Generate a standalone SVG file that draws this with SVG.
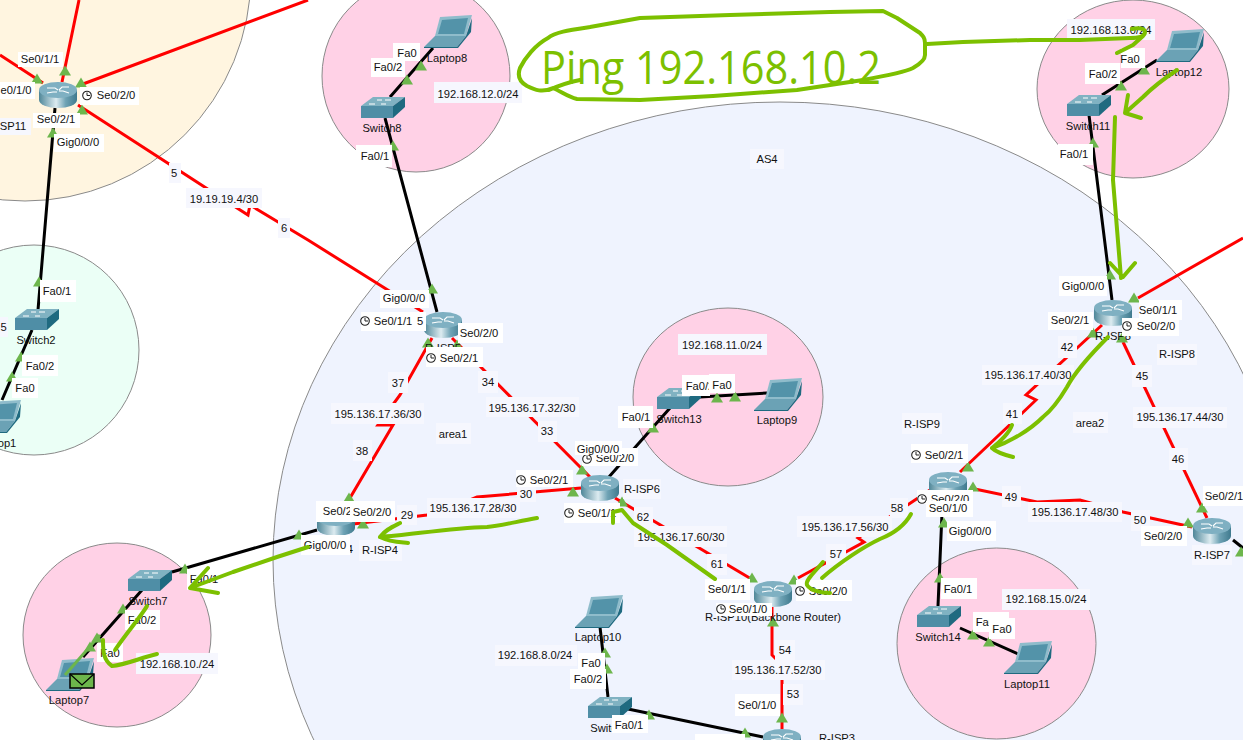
<svg xmlns="http://www.w3.org/2000/svg" width="1243" height="740" viewBox="0 0 1243 740">
<style>
text{font-family:"Liberation Sans",Arial,sans-serif;font-size:11.2px;fill:#111;text-anchor:middle;dominant-baseline:central}
.r{fill:none;stroke:#f00;stroke-width:3}
.k{fill:none;stroke:#000;stroke-width:3}
.w{fill:#fff}
.b{fill:#f6f7fe}
.h{fill:none;stroke:#7cc000;stroke-width:4;stroke-linecap:round;stroke-linejoin:round}
.p{fill:#ffd1e6;stroke:#8a8a8a}
</style>
<defs>
<linearGradient id="g"><stop offset="0" stop-color="#4f8799"/><stop offset=".45" stop-color="#dcebf0"/><stop offset=".7" stop-color="#6fa3b5"/><stop offset="1" stop-color="#3f7a8e"/></linearGradient>
<symbol id="router" viewBox="0 0 38 26" width="38" height="26">
<path d="M0 8V18A19 8 0 0 0 38 18V8Z" fill="url(#g)"/>
<ellipse cx="19" cy="8" rx="19" ry="8" fill="#7fb0c2"/>
<path d="M8 6h8l3 2M30 5h-7l-3 3M8 11l6-1h4M30 11l-6-2h-4" fill="none" stroke="#fff" stroke-width="1.1"/>
</symbol>
<symbol id="switch" viewBox="0 0 44 21" width="44" height="21">
<path d="M0 9 12 0H44L32 9Z" fill="#80b2c2"/><path d="M0 9H32V21H0Z" fill="#4f8ea6"/><path d="M32 9 44 0V10L32 21Z" fill="#1f6a80"/>
<path d="M8 7h6M24 3h6M16 3h5M20 7h5" stroke="#fff" stroke-width="1"/>
</symbol>
<symbol id="laptop" viewBox="0 0 48 33" width="48" height="33">
<path d="M16 2 48 0 42 21 11 21Z" fill="#8fbccb"/><path d="M18 5 44 3 40 19 14 19Z" fill="#5393a9"/>
<path d="M11 21H42L33 32H0Z" fill="#6ba2b5"/><path d="M33 32 42 21 48 3 47 17 34 33H0V32Z" fill="#1f6a80"/>
</symbol>
<polygon id="t" points="0,-5.500 6,4.500 -6,4.500" fill="#6db64c"/>
<g id="c"><circle r="4.3" fill="#fff" stroke="#222" stroke-width="1.1"/><path d="M0 -3V0H3" fill="none" stroke="#222"/></g>
</defs>
<rect width="1243" height="740" fill="#fff"/>

<g id="areas">
<circle cx="25" cy="-25" r="226" fill="#fff5e0" stroke="#8a8a8a"/>
<ellipse cx="34" cy="350" rx="105" ry="105" fill="#ebfff6" stroke="#8a8a8a"/>
<ellipse cx="780" cy="560" rx="507" ry="458" fill="#eff3fe" stroke="#8a8a8a"/>
<ellipse class="p" cx="416" cy="76" rx="94" ry="96"/>
<ellipse class="p" cx="1133" cy="89" rx="96" ry="89"/>
<ellipse class="p" cx="728" cy="397" rx="95" ry="89"/>
<ellipse class="p" cx="117" cy="635" rx="94" ry="92"/>
<ellipse class="p" cx="996.500" cy="643.500" rx="99.500" ry="95.500"/>
</g>

<g id="connectors">
<path class="r" d="M62 82 79 0M83 84 308 0M43 83 0 55"/>
<path class="r" d="M78 105 237 208 248 215 250 205 308 240 383 287 423 312"/>
<path class="k" d="M55 108 38 310M32 330 2 400"/>
<path class="k" d="M390 97 433 48M385 118 437 312"/>
<path class="k" d="M1102 95 1157 60M1089 115 1112 300"/>
<path class="k" d="M700 397 767 393M670 408 608 478"/>
<path class="k" d="M317 530 172 572M142 590 83 657"/>
<path class="k" d="M608 697 600 627M628 709 763 737"/>
<path class="k" d="M943 490 938 606M960 628 1018 654"/>
<path class="k" d="M1233 540 1243 548"/>
<path class="r" d="M1138 298 1243 238"/>
<path class="r" d="M432 338 400 395 378 425H393L350 498 345 510"/>
<path class="r" d="M452 338 590 477"/>
<path class="r" d="M581 488 477 497 470 500 427 515 345 525"/>
<path class="r" d="M615 498 753 580"/>
<path class="r" d="M798 578 864 542 858 538 930 490"/>
<path class="r" d="M772 607V655L782 665V729"/>
<path class="r" d="M1102 325 1026 395 1036 400 960 472"/>
<path class="r" d="M1123 342 1207 518"/>
<path class="r" d="M970 488 1037 502 1080 500 1123 512 1192 527"/>
</g>

<g id="ports">
<use href="#t" x="65" y="71"/><use href="#t" x="37" y="79"/><use href="#t" x="81" y="83"/><use href="#t" x="82" y="110"/><use href="#t" x="53" y="133"/>
<use href="#t" x="39" y="282"/><use href="#t" x="21" y="357"/><use href="#t" x="12" y="377"/>
<use href="#t" x="393" y="146"/><use href="#t" x="407" y="80"/><use href="#t" x="421" y="66"/>
<use href="#t" x="432" y="289"/><use href="#t" x="457" y="345"/><use href="#t" x="428" y="343"/>
<use href="#t" x="582" y="470"/><use href="#t" x="573" y="492"/><use href="#t" x="622" y="502"/>
<use href="#t" x="349" y="498"/><use href="#t" x="363" y="524"/><use href="#t" x="299" y="535"/>
<use href="#t" x="752" y="578"/><use href="#t" x="794" y="580"/><use href="#t" x="773" y="622"/>
<use href="#t" x="782" y="718"/><use href="#t" x="745" y="733"/><use href="#t" x="649" y="715"/><use href="#t" x="607" y="669"/><use href="#t" x="605" y="653"/>
<use href="#t" x="1110" y="275"/><use href="#t" x="1134" y="298"/><use href="#t" x="1093" y="333"/><use href="#t" x="1122" y="338"/>
<use href="#t" x="968" y="467"/><use href="#t" x="973" y="487"/><use href="#t" x="944" y="523"/>
<use href="#t" x="1202" y="508"/><use href="#t" x="1188" y="523"/><use href="#t" x="1241" y="552"/>
<use href="#t" x="185" y="569"/><use href="#t" x="123" y="609"/>
<use href="#t" x="1093" y="143"/><use href="#t" x="1121" y="86"/><use href="#t" x="1144" y="70"/>
<use href="#t" x="717" y="398"/><use href="#t" x="735" y="397"/><use href="#t" x="653" y="428"/>
<use href="#t" x="940" y="578"/><use href="#t" x="973" y="635"/><use href="#t" x="989" y="642"/>
</g>

<g id="nodes">
<g id="r-isp11"><use href="#router" x="39" y="82"/></g>
<g id="r-isp5"><use href="#router" x="424" y="312"/><text x="443" y="348">R-ISP5</text></g>
<g id="r-isp6"><use href="#router" x="581" y="475"/></g>
<g id="r-isp4"><use href="#router" x="317" y="510"/><text x="335" y="549">R-ISP4</text></g>
<g id="r-isp10"><use href="#router" x="754" y="581"/><text x="773" y="617">R-ISP10(Backbone Router)</text></g>
<g id="r-isp3"><use href="#router" x="763" y="729"/></g>
<g id="r-isp8"><use href="#router" x="1094" y="300"/><text x="1113" y="336">R-ISP8</text></g>
<g id="r-isp9"><use href="#router" x="929" y="472"/></g>
<g id="r-isp7"><use href="#router" x="1193" y="518"/></g>
<g id="switch8"><use href="#switch" x="361" y="97"/><text x="382" y="128">Switch8</text></g>
<g id="switch11"><use href="#switch" x="1067" y="95"/><text x="1088" y="126">Switch11</text></g>
<g id="switch2"><use href="#switch" x="15" y="309"/><text x="36" y="340">Switch2</text></g>
<g id="switch13"><use href="#switch" x="657" y="388"/><text x="679" y="419">Switch13</text></g>
<g id="switch7"><use href="#switch" x="128" y="570"/><text x="148" y="601">Switch7</text></g>
<g id="switch10"><use href="#switch" x="588" y="697"/><text x="613" y="728">Switch10</text></g>
<g id="switch14"><use href="#switch" x="917" y="606"/><text x="938" y="637">Switch14</text></g>
<g id="laptop8"><use href="#laptop" x="424" y="15"/><text x="447" y="58">Laptop8</text></g>
<g id="laptop12"><use href="#laptop" x="1156" y="29"/><text x="1179" y="72">Laptop12</text></g>
<g id="laptop1"><use href="#laptop" x="-27" y="400"/><text x="7" y="443">op1</text></g>
<g id="laptop9"><use href="#laptop" x="754" y="378"/><text x="777" y="420">Laptop9</text></g>
<g id="laptop7"><use href="#laptop" x="46" y="658"/><text x="69" y="700">Laptop7</text></g>
<g id="laptop10"><use href="#laptop" x="575" y="595"/><text x="598" y="637">Laptop10</text></g>
<g id="laptop11"><use href="#laptop" x="1004" y="641"/><text x="1027" y="684">Laptop11</text></g>
</g>

<g id="labels">
<rect class="w" x="18" y="52" width="45" height="15"/><text x="40" y="59">Se0/1/1</text>
<rect class="w" x="0" y="82" width="35" height="17"/><text x="16" y="90">e0/1/0</text>
<rect class="w" x="80" y="87" width="59" height="18"/><use href="#c" x="87" y="95.500"/><text x="116" y="95">Se0/2/0</text>
<rect class="w" x="33" y="113" width="47" height="15"/><text x="56" y="119">Se0/2/1</text>
<rect class="b" x="0" y="118" width="31" height="17"/><text x="13" y="126">SP11</text>
<rect class="w" x="54" y="134" width="50" height="18"/><text x="78" y="142">Gig0/0/0</text>
<rect class="b" x="169" y="163" width="12" height="20"/><text x="174" y="173">5</text>
<rect class="b" x="186" y="188" width="76" height="20"/><text x="224" y="199">19.19.19.4/30</text>
<rect class="b" x="278" y="218" width="12" height="20"/><text x="284" y="228">6</text>
<rect class="w" x="40" y="280" width="36" height="22"/><text x="57" y="291">Fa0/1</text>
<rect class="w" x="22" y="355" width="36" height="21"/><text x="40" y="366">Fa0/2</text>
<rect class="w" x="12" y="378" width="26" height="20"/><text x="25" y="388">Fa0</text>
<rect class="b" x="0" y="317" width="8" height="20"/><text x="3.500" y="327">5</text>

<rect class="w" x="393" y="43" width="27" height="18"/><text x="407" y="53">Fa0</text>
<rect class="w" x="371" y="58" width="34" height="19"/><text x="388" y="67">Fa0/2</text>
<rect class="w" x="356" y="145" width="36" height="22"/><text x="375" y="156">Fa0/1</text>
<rect class="b" x="434" y="82" width="88" height="21"/><text x="478" y="94">192.168.12.0/24</text>
<rect class="b" x="750" y="149" width="34" height="20"/><text x="767" y="159">AS4</text>

<rect class="w" x="380" y="290" width="49" height="18"/><text x="404" y="298">Gig0/0/0</text>
<rect class="w" x="361" y="312" width="65" height="19"/><use href="#c" x="365" y="321"/><text x="393" y="321">Se0/1/1</text><text x="420" y="321">5</text>
<rect class="w" x="458" y="323" width="45" height="20"/><text x="479" y="333">Se0/2/0</text>
<rect class="w" x="426" y="347" width="57" height="20"/><use href="#c" x="431" y="358"/><text x="459" y="358">Se0/2/1</text>
<rect class="b" x="388" y="372" width="20" height="21"/><text x="398" y="383">37</text>
<rect class="b" x="331" y="403" width="93" height="21"/><text x="378" y="414">195.136.17.36/30</text>
<rect class="b" x="353" y="440" width="19" height="21"/><text x="362" y="451">38</text>
<rect class="b" x="436" y="423" width="35" height="21"/><text x="453" y="434">area1</text>
<rect class="b" x="478" y="371" width="20" height="22"/><text x="488" y="382">34</text>
<rect class="b" x="486" y="397" width="93" height="20"/><text x="532" y="408">195.136.17.32/30</text>
<rect class="b" x="538" y="421" width="19" height="21"/><text x="547" y="431">33</text>
<rect class="w" x="618" y="406" width="35" height="22"/><text x="636" y="417">Fa0/1</text>
<rect class="w" x="582" y="448" width="56" height="18"/><use href="#c" x="587" y="459"/><text x="615" y="458">Se0/2/0</text>
<rect class="w" x="575" y="441" width="47" height="14"/><text x="598" y="449">Gig0/0/0</text>
<rect class="w" x="516" y="470" width="57" height="17"/><use href="#c" x="521" y="480"/><text x="549" y="480">Se0/2/1</text>
<rect class="b" x="517" y="487" width="19" height="15"/><text x="526" y="494">30</text>
<rect class="b" x="427" y="498" width="93" height="20"/><text x="473" y="508">195.136.17.28/30</text>
<rect class="b" x="397" y="505" width="20" height="20"/><text x="407" y="515">29</text>
<rect class="b" x="623" y="479" width="38" height="20"/><text x="642" y="489">R-ISP6</text>
<rect class="w" x="564" y="503" width="56" height="20"/><use href="#c" x="569" y="513"/><text x="597" y="513">Se0/1/1</text>
<rect class="b" x="634" y="507" width="19" height="20"/><text x="643" y="517">62</text>
<rect class="b" x="634" y="526" width="93" height="21"/><text x="681" y="537">195.136.17.60/30</text>
<rect class="b" x="707" y="554" width="20" height="21"/><text x="717" y="564">61</text>
<rect class="w" x="705" y="579" width="45" height="21"/><text x="727" y="589">Se0/1/1</text>
<rect class="w" x="796" y="580" width="56" height="21"/><use href="#c" x="800" y="591"/><text x="828" y="591">Se0/2/0</text>
<rect class="w" x="716" y="603" width="56" height="13"/><use href="#c" x="721" y="609"/><text x="748" y="609">Se0/1/0</text>
<rect class="b" x="775" y="640" width="20" height="21"/><text x="785" y="650">54</text>
<rect class="b" x="732" y="660" width="93" height="20"/><text x="778" y="670">195.136.17.52/30</text>
<rect class="b" x="783" y="684" width="20" height="21"/><text x="793" y="694">53</text>
<rect class="w" x="735" y="694" width="45" height="22"/><text x="757" y="705">Se0/1/0</text>
<text x="837" y="738">R-ISP3</text>
<rect class="w" x="695" y="734" width="50" height="6"/>

<rect class="b" x="495" y="645" width="82" height="21"/><text x="535" y="655">192.168.8.0/24</text>
<rect class="w" x="578" y="653" width="27" height="20"/><text x="591" y="663">Fa0</text>
<rect class="w" x="570" y="669" width="36" height="20"/><text x="588" y="679">Fa0/2</text>
<rect class="w" x="612" y="715" width="36" height="18"/><text x="629" y="725">Fa0/1</text>

<rect class="b" x="678" y="334" width="89" height="21"/><text x="722" y="345">192.168.11.0/24</text>
<rect class="w" x="682" y="375" width="28" height="21"/><text x="700" y="386">Fa0/2</text>
<rect class="w" x="709" y="374" width="26" height="19"/><text x="722" y="385">Fa0</text>

<rect class="w" x="1059" y="276" width="48" height="20"/><text x="1083" y="286">Gig0/0/0</text>
<rect class="w" x="1139" y="300" width="43" height="20"/><text x="1158" y="310">Se0/1/1</text>
<rect class="w" x="1122" y="318" width="57" height="18"/><use href="#c" x="1127" y="326"/><text x="1156" y="326">Se0/2/0</text>
<rect class="w" x="1048" y="312" width="45" height="18"/><text x="1070" y="320">Se0/2/1</text>
<rect class="b" x="1157" y="344" width="40" height="21"/><text x="1177" y="354">R-ISP8</text>
<rect class="b" x="1058" y="336" width="19" height="22"/><text x="1067" y="347">42</text>
<rect class="b" x="982" y="365" width="92" height="20"/><text x="1028" y="375">195.136.17.40/30</text>
<rect class="b" x="1003" y="403" width="19" height="21"/><text x="1012" y="414">41</text>
<rect class="b" x="1132" y="365" width="20" height="22"/><text x="1142" y="376">45</text>
<rect class="b" x="1133" y="407" width="94" height="21"/><text x="1180" y="417">195.136.17.44/30</text>
<rect class="b" x="1169" y="448" width="19" height="22"/><text x="1178" y="459">46</text>
<rect class="b" x="1073" y="412" width="35" height="21"/><text x="1090" y="423">area2</text>
<rect class="b" x="902" y="413" width="40" height="21"/><text x="922" y="424">R-ISP9</text>
<rect class="w" x="911" y="444" width="57" height="19"/><use href="#c" x="916" y="455"/><text x="944" y="455">Se0/2/1</text>
<rect class="w" x="917" y="490" width="56" height="14"/><use href="#c" x="922" y="499"/><text x="950" y="499">Se0/2/0</text>
<rect class="w" x="926" y="501" width="47" height="16"/><text x="948" y="508">Se0/1/0</text>
<rect class="b" x="1002" y="486" width="19" height="21"/><text x="1011" y="497">49</text>
<rect class="b" x="1028" y="502" width="94" height="20"/><text x="1075" y="512">195.136.17.48/30</text>
<rect class="b" x="1131" y="510" width="19" height="21"/><text x="1140" y="520">50</text>
<rect class="w" x="1141" y="526" width="46" height="20"/><text x="1163" y="536">Se0/2/0</text>
<rect class="w" x="1203" y="486" width="40" height="20"/><text x="1224" y="496">Se0/2/1</text>
<rect class="b" x="1192" y="545" width="40" height="20"/><text x="1212" y="555">R-ISP7</text>
<rect class="b" x="890" y="498" width="18" height="20"/><text x="897" y="508">58</text>
<rect class="w" x="947" y="521" width="49" height="20"/><text x="970" y="531">Gig0/0/0</text>
<rect class="b" x="797" y="516" width="95" height="21"/><text x="845" y="527">195.136.17.56/30</text>
<rect class="b" x="826" y="544" width="20" height="21"/><text x="836" y="554">57</text>

<rect class="w" x="941" y="578" width="36" height="21"/><text x="958" y="589">Fa0/1</text>
<rect class="b" x="1002" y="589" width="88" height="21"/><text x="1046" y="599">192.168.15.0/24</text>
<rect class="w" x="973" y="612" width="36" height="20"/><text x="990" y="622">Fa0/2</text>
<rect class="w" x="989" y="618" width="26" height="21"/><text x="1002" y="629">Fa0</text>

<rect class="w" x="316" y="501" width="36" height="21"/><text x="342" y="511">Se0/2/1</text>
<rect class="w" x="350" y="501" width="45" height="21"/><text x="372" y="512">Se0/2/0</text>
<rect class="w" x="301" y="535" width="49" height="20"/><text x="325" y="545">Gig0/0/0</text>
<rect class="b" x="359" y="540" width="43" height="21"/><text x="380" y="550">R-ISP4</text>

<rect class="w" x="187" y="569" width="35" height="21"/><text x="204" y="579">Fa0/1</text>
<rect class="w" x="125" y="610" width="35" height="20"/><text x="142" y="620">Fa0/2</text>
<rect class="w" x="97" y="643" width="26" height="19"/><text x="110" y="653">Fa0</text>
<rect class="b" x="136" y="653" width="82" height="21"/><text x="177" y="664">192.168.10./24</text>

<rect class="b" x="1067" y="19" width="88" height="21"/><text x="1111" y="30">192.168.13.0/24</text>
<rect class="w" x="1121" y="48" width="24" height="20"/><text x="1130" y="59">Fa0</text>
<rect class="w" x="1085" y="63" width="35" height="21"/><text x="1103" y="74">Fa0/2</text>
<rect class="w" x="1058" y="144" width="35" height="21"/><text x="1074" y="154">Fa0/1</text>
</g>

<g id="pdu">
<path d="M65 675 100 635" fill="none" stroke="#6db64c" stroke-width="3"/>
<use href="#t" x="97" y="638"/><use href="#t" x="90" y="647"/>
<rect x="70" y="674" width="24" height="14" fill="#6db64c" stroke="#000" stroke-width="1.500"/>
<path d="M70 674 82 685 94 674" fill="none" stroke="#000" stroke-width="1.200"/>
</g>

<g id="annotation">
<path class="h" d="M553 88C562 92 568 97 577 99L640 100 713 96 797 90 863 80C885 76 905 72 913 68 920 64 925 60 925 55V43C925 38 923 36 920 33L897 18 883 11 830 12 730 15 640 18 590 27C570 30 555 32 548 38 535 45 525 58 520 68 517 76 520 82 527 86 535 90 542 93 553 88ZM549 90C560 85 570 82 580 80"/>
<path class="h" d="M927 44 963 42 1030 40H1080L1130 38C1140 38 1145 36 1145 32 1145 29 1140 27 1132 29M1143 36 1133 45 1117 53"/>
<path class="h" d="M1177 70C1165 78 1150 90 1143 97L1125 113 1141 118M1128 95 1125 113"/>
<path class="h" d="M1115 117 1113 180 1121 278M1110 263 1123 277 1135 263"/>
<path class="h" d="M1108 337C1095 350 1075 372 1067 387 1058 402 1052 410 1043 417 1030 430 1010 442 992 448 997 453 1005 455 1013 457M1012 425C1010 432 1000 442 992 448"/>
<path class="h" d="M911 514C905 525 895 533 880 539 865 546 840 562 822 578M823 562C815 572 805 580 807 585 810 590 820 593 830 593"/>
<path class="h" d="M715 579 667 545 633 523 622 510 613 512V523"/>
<path class="h" d="M537 518C515 522 500 526 487 527 450 528 410 535 380 537 385 530 392 527 400 523M380 537C390 542 398 542 408 543"/>
<path class="h" d="M308 547 277 557 233 572 190 588 208 568M190 588 218 593"/>
<path class="h" d="M147 606C142 615 125 635 115 650M103 640C103 650 103 660 112 666 125 665 140 658 157 654"/>
<text x="711" y="66" style="font-family:'Open Sans',sans-serif;font-size:46px;fill:#7cc000" textLength="340" lengthAdjust="spacingAndGlyphs" dominant-baseline="auto">Ping 192.168.10.2</text>
</g>
</svg>
